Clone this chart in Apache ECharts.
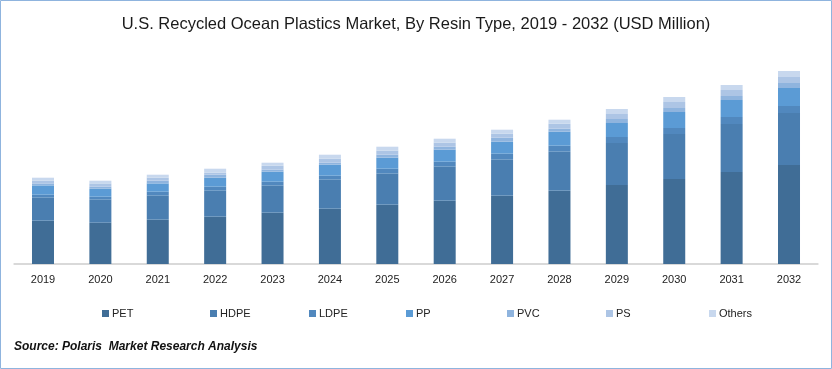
<!DOCTYPE html>
<html><head><meta charset="utf-8">
<script src="https://cdn.jsdelivr.net/npm/echarts@6/dist/echarts.min.js"></script>
<style>html,body{margin:0;padding:0;background:#fff}#c{width:832px;height:369px}</style>
</head><body><div id="c"></div>
<script>
const years = ['2019','2020','2021','2022','2023','2024','2025','2026','2027','2028','2029','2030','2031','2032'];
const PET    = [43.3,41.3,44.3,47.3,51.3,55.3,59.3,63.3,68.3,73.3,79,85,92,99];
const HDPE   = [23,23,24,26,27,29,31,34,36,39,42,45,48,52];
const LDPE   = [3,3,4,4,4,4,5,5,6,6,6,6,7,7];
const PP     = [9.3,8,8.3,9,10,11,11,12,12,14,14,16,17,18];
const PVC    = [2,2,2.7,3,2,2,3,3,4,3,4,4,4,5];
const PS     = [2.7,3.3,3,2,4,4,4,4,4,5,5,6,6,6];
const Others = [3,2.7,3,4,3,4,4,4,4,4,5,5,5,6];
const seriesNames = ['PET','HDPE','LDPE','PP','PVC','PS','Others'];
const seriesData = [PET,HDPE,LDPE,PP,PVC,PS,Others];
const colors = ['#406d96','#4a7eb0','#5188be','#5b9bd5','#8fb4de','#adc5e5','#c8d8ee'];
const legendX = [97,205,304,401,502,601,704];

const chart = echarts.init(document.getElementById('c'));
chart.setOption({
  animation:false,
  color: colors,
  title:{text:'U.S. Recycled Ocean Plastics Market, By Resin Type, 2019 - 2032 (USD Million)',
    left:'center', top:11, textStyle:{fontFamily:'Liberation Sans, sans-serif',fontWeight:'normal',fontSize:16.5,color:'#1a1a1a'}},
  grid:{left:14.3,right:14.3,top:64,bottom:105},
  xAxis:{type:'category',data:years,
    axisLine:{lineStyle:{color:'#d9d9d9',width:2}},axisTick:{show:false},
    axisLabel:{color:'#222',fontSize:11,fontFamily:'Liberation Sans, sans-serif',margin:10}},
  yAxis:{type:'value',min:0,max:200,show:false,splitLine:{show:false}},
  legend: seriesNames.map((n,i)=>({data:[n],left:legendX[i],top:303,itemWidth:7,itemHeight:7,itemGap:0,
    icon:'rect',textStyle:{fontSize:11,color:'#222',fontFamily:'Liberation Sans, sans-serif',padding:[0,0,0,-2]}})),
  series: seriesNames.map((n,i)=>({name:n,type:'bar',stack:'t',barWidth:22,data:seriesData[i],
    itemStyle:{color:colors[i]}})),
  graphic:[
    {type:'rect',shape:{x:0.5,y:0.5,width:831,height:368},style:{fill:'none',stroke:'#8fb4de',lineWidth:1}},
    {type:'text',left:14,top:341,style:{text:'Source: Polaris  Market Research Analysis',
      font:'italic bold 12px "Liberation Sans", sans-serif',fill:'#111'}}
  ]
});
</script></body></html>
